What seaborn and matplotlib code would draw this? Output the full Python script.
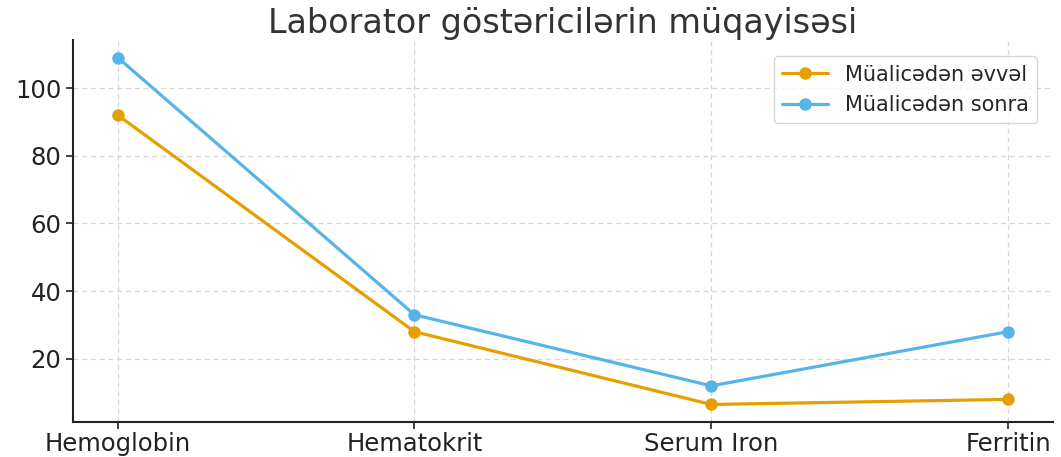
import pandas as pd
import seaborn as sns
import matplotlib.pyplot as plt

# chart values
categories = ['Hemoglobin', 'Hematokrit', 'Serum Iron', 'Ferritin']
before = [92, 28, 6.5, 8]
after = [109, 33, 12, 28]
series_names = ['Müalicədən əvvəl', 'Müalicədən sonra']
colors = ['#E69F00', '#56B4E9']

sns.set_theme(style='white')
plt.rcParams['font.family'] = ['DejaVu Sans']

tbl = pd.DataFrame({
    'cat': categories * 2,
    'value': before + after,
    'group': [series_names[0]] * len(categories) + [series_names[1]] * len(categories),
})

fig = plt.figure(figsize=(10.61, 4.57), dpi=100)
ax = fig.add_axes([0.069, 0.077, 0.923, 0.835])

sns.lineplot(
    data=tbl, ax=ax,
    x='cat', y='value', hue='group', palette=colors,
    marker='o', markersize=9, markeredgewidth=0, linewidth=2.3, sort=False
)

ax.grid(True, linestyle=(0, (4, 3)), color='#d5d5d5', linewidth=0.9)
for s in ['top', 'right']:
    ax.spines[s].set_visible(False)
for s in ['left', 'bottom']:
    ax.spines[s].set_color('#222222')
    ax.spines[s].set_linewidth(1.5)
ax.tick_params(axis='both', which='both', direction='out', length=5, width=1.2,
               colors='#222222', labelsize=17.5, left=True, bottom=True)
ax.tick_params(axis='x', pad=2)
ax.set_yticks([20, 40, 60, 80, 100])
ax.set_xlabel('')
ax.set_ylabel('')
ax.set_title('Laborator göstəricilərin müqayisəsi', fontsize=24, color='#333333', pad=5)
ax.legend(loc='upper right', fontsize=15, frameon=True, fancybox=True,
          edgecolor='#cccccc', bbox_to_anchor=(0.995, 0.985), handlelength=2.2)

plt.savefig('out.png', dpi=100)
